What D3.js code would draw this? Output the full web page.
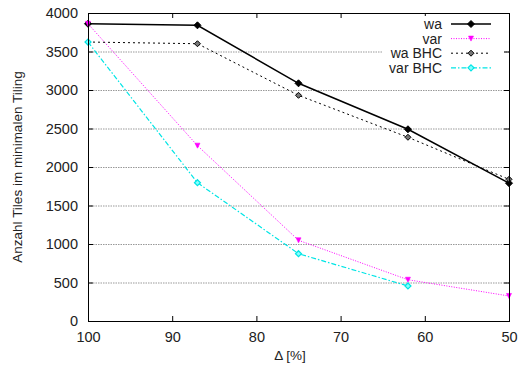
<!DOCTYPE html>
<html>
<head>
<meta charset="utf-8">
<script src="https://cdn.jsdelivr.net/npm/d3@7"></script>
<style>
body { margin: 0; background: #fff; }
text { font-family: "Liberation Sans", Arial, sans-serif; fill: #222; }
</style>
</head>
<body>
<svg id="chart" width="522" height="371"></svg>
<script>
// Anzahl Tiles vs. Delta

var deltas = [100, 87, 75, 62, 50]
var waValues = [3860, 3840, 3087, 2490, 1790]
var varValues = [3860, 2277, 1048, 536, 325]
var waBhcValues = [3623, 3601, 2931, 2386, 1840]
var varBhcValues = [3623, 1796, 874, 455]
var xTicks = [100, 90, 80, 70, 60, 50]
var yTicks = [0, 500, 1000, 1500, 2000, 2500, 3000, 3500, 4000]

var series = [
	{name: 'wa', values: waValues, color: '#000', width: 1.5, dash: null, marker: 'diamond'},
	{name: 'var', values: varValues, color: '#ff00ff', width: 1, dash: '1,1.5', marker: 'tri'},
	{name: 'wa BHC', values: waBhcValues, color: '#000', width: 1, dash: '2,3', marker: 'odiamond'},
	{name: 'var BHC', values: varBhcValues, color: '#00e5e5', width: 1.2, dash: '5,2,1.5,2', marker: 'cdiamond'}
]

var svg = d3.select('#chart')
var mLeft = 88, mRight = 509, mTop = 13, mBottom = 321

var x = d3.scaleLinear().domain([100, 50]).range([mLeft, mRight])
var y = d3.scaleLinear().domain([0, 4000]).range([mBottom, mTop])

// grid
svg.append('g')
	.selectAll('line')
	.data(yTicks.filter(function(d) { return d > 0 && d < 4000 }))
	.enter()
	.append('line')
	.attr('x1', mLeft).attr('x2', mRight)
	.attr('y1', function(d) { return y(d) + 0.5 })
	.attr('y2', function(d) { return y(d) + 0.5 })
	.attr('stroke', '#999')
	.attr('stroke-width', 1)
	.attr('stroke-dasharray', '1.5,1')

// axes with inward ticks, mirrored
var axB = d3.axisBottom(x).tickValues(xTicks).tickFormat(d3.format('d')).tickSize(-5).tickPadding(11).tickSizeOuter(0)
var axT = d3.axisTop(x).tickValues(xTicks).tickSize(-5).tickFormat('').tickSizeOuter(0)
var axL = d3.axisLeft(y).tickValues(yTicks).tickFormat(d3.format('d')).tickSize(-5).tickPadding(10).tickSizeOuter(0)
var axR = d3.axisRight(y).tickValues(yTicks).tickSize(-5).tickFormat('').tickSizeOuter(0)

function styleAxis(g) {
	g.select('.domain').remove()
	g.selectAll('line').attr('stroke', '#000')
	g.selectAll('text').attr('font-size', 14.5).attr('font-family', '"Liberation Sans", Arial, sans-serif').attr('fill', '#222')
}
svg.append('g').attr('transform', 'translate(0,' + mBottom + ')').call(axB).call(styleAxis)
svg.append('g').attr('transform', 'translate(0,' + mTop + ')').call(axT).call(styleAxis)
svg.append('g').attr('transform', 'translate(' + mLeft + ',0)').call(axL).call(styleAxis)
svg.append('g').attr('transform', 'translate(' + mRight + ',0)').call(axR).call(styleAxis)

// legend background hides grid
svg.append('rect')
	.attr('x', 383).attr('y', 16).attr('width', 121).attr('height', 58)
	.attr('fill', '#fff')

var line = d3.line()
	.x(function(d, i) { return x(deltas[i]) })
	.y(function(d) { return y(d) })

function diamond(cx, cy, r) {
	return 'M' + cx + ',' + (cy - r) + 'L' + (cx + r) + ',' + cy + 'L' + cx + ',' + (cy + r) + 'L' + (cx - r) + ',' + cy + 'Z'
}

function drawMarker(g, type, color, cx, cy) {
	if (type == 'diamond') {
		g.append('path').attr('d', diamond(cx, cy, 3.5))
			.attr('fill', color).attr('stroke', color)
	} else if (type == 'tri') {
		g.append('path').attr('d', 'M' + (cx - 2.5) + ',' + (cy - 2.5) + 'L' + (cx + 2.5) + ',' + (cy - 2.5) + 'L' + cx + ',' + (cy + 2.5) + 'Z')
			.attr('fill', color).attr('stroke', color).attr('stroke-width', 0.6)
	} else if (type == 'odiamond') {
		g.append('path').attr('d', diamond(cx, cy, 3))
			.attr('fill', '#777').attr('stroke', color).attr('stroke-width', 1)
	} else {
		g.append('path').attr('d', diamond(cx, cy, 3))
			.attr('fill', '#8ff').attr('stroke', color).attr('stroke-width', 1.2)
	}
}

var plot = svg.append('g')
for (var i = 0; i < series.length; i++) {
	var s = series[i]
	plot.append('path')
		.attr('d', line(s.values))
		.attr('fill', 'none')
		.attr('stroke', s.color)
		.attr('stroke-width', s.width)
		.attr('stroke-dasharray', s.dash)
	for (var j = 0; j < s.values.length; j++) {
		drawMarker(plot, s.marker, s.color, x(deltas[j]), y(s.values[j]))
	}
}

// frame
svg.append('rect')
	.attr('x', mLeft + 0.5).attr('y', mTop + 0.5)
	.attr('width', mRight - mLeft).attr('height', mBottom - mTop)
	.attr('fill', 'none').attr('stroke', '#000').attr('stroke-width', 1)

// legend
var legend = svg.append('g')
for (var k = 0; k < series.length; k++) {
	var s = series[k]
	var ly = 24 + k * 14.6
	legend.append('text')
		.attr('x', 442).attr('y', ly).attr('dy', '0.35em')
		.attr('text-anchor', 'end')
		.attr('font-size', 14)
		.text(s.name)
	legend.append('line')
		.attr('x1', 451).attr('x2', 491)
		.attr('y1', ly).attr('y2', ly)
		.attr('stroke', s.color)
		.attr('stroke-width', s.width)
		.attr('stroke-dasharray', s.dash)
	drawMarker(legend, s.marker, s.color, 471, ly)
}

// axis labels
svg.append('text')
	.attr('x', 290).attr('y', 360)
	.attr('text-anchor', 'middle')
	.attr('font-size', 13.5)
	.text('\u0394 [%]')

svg.append('text')
	.attr('transform', 'translate(22,' + ((mTop + mBottom) / 2) + ') rotate(-90)')
	.attr('text-anchor', 'middle')
	.attr('font-size', 13.5)
	.text('Anzahl Tiles im minimalen Tiling')
</script>
</body>
</html>
